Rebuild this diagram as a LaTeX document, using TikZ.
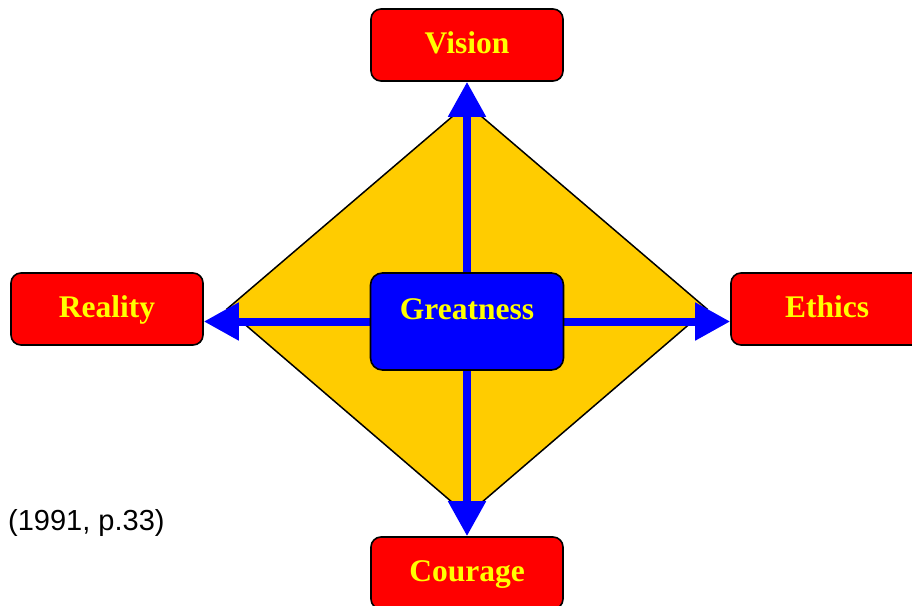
\documentclass[tikz,border=0pt]{standalone}
\usepackage{fontspec}
\setmainfont{Liberation Serif}
\newfontfamily\citefont{Liberation Sans}
\usetikzlibrary{arrows.meta}
\definecolor{boxred}{HTML}{FF0000}
\definecolor{txtyellow}{HTML}{FFFF00}
\definecolor{arrblue}{HTML}{0000FF}
\definecolor{gold}{HTML}{FFCC00}
\tikzset{
  outerbox/.style={draw=black, line width=1.6pt, fill=boxred, rounded corners=10pt,
    minimum width=192pt, inner sep=0pt, text height=44pt, text depth=28pt,
    text=txtyellow, font=\fontsize{31.5}{31.5}\selectfont\bfseries},
  centerbox/.style={draw=black, line width=1.6pt, fill=arrblue, rounded corners=12pt,
    minimum width=193pt, inner sep=0pt, text height=46pt, text depth=51pt,
    text=txtyellow, font=\fontsize{31.5}{31.5}\selectfont\bfseries},
  bigarrow/.style={draw=arrblue, line width=8pt, -{Triangle[length=35pt,width=36pt]}},
  rhomb/.style={draw=black, line width=1.5pt, fill=gold, line join=miter}
}
\begin{document}
\begin{tikzpicture}[x=1pt,y=-1pt]
\useasboundingbox (0,0) rectangle (912,605);
\clip (0,0) rectangle (912,605);
\draw[rhomb] (467,104) -- (707,309) -- (467,515) -- (227,309) -- cycle;
\node[outerbox] (vision) at (467,45) {Vision};
\node[outerbox] (reality) at (107,309) {Reality};
\node[outerbox] (ethics) at (827,309) {Ethics};
\node[outerbox] (courage) at (467,573) {Courage};
\coordinate (g) at (467,321.5);
\draw[bigarrow] (g) -- (vision.south);
\draw[bigarrow] (g) -- (courage.north);
\draw[bigarrow] (g) -- (g -| reality.east);
\draw[bigarrow] (g) -- (g -| ethics.west);
\node[centerbox] (great) at (g) {Greatness};
\node[anchor=base west, inner sep=0pt, font=\citefont\fontsize{29}{29}\selectfont] (cite) at (8,530) {(1991, p.33)};
\end{tikzpicture}
\end{document}
